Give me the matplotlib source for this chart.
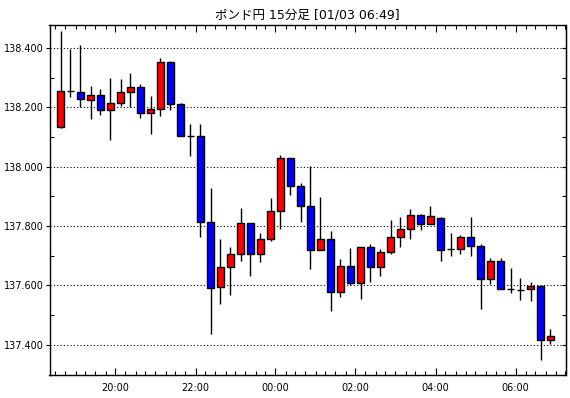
import numpy as np
import pandas as pd
import matplotlib
matplotlib.use("Agg")
import matplotlib.pyplot as plt
import matplotlib.dates as mdates

plt.rcParams['font.family'] = ['DejaVu Sans', 'Noto Sans CJK JP']

# 15-minute candles, 01/02 18:30 -> 01/03 06:45
times = pd.date_range("2024-01-02 18:30", "2024-01-03 06:45", freq="15min")

opens = [138.133, 138.254, 138.252, 138.226, 138.240, 138.190, 138.216, 138.252, 138.269, 138.180,
         138.193, 138.351, 138.212, 138.102, 138.102, 137.815, 137.593, 137.662, 137.705, 137.809,
         137.705, 137.757, 137.852, 138.030, 137.934, 137.869, 137.718, 137.757, 137.577, 137.666,
         137.607, 137.728, 137.662, 137.711, 137.764, 137.790, 137.836, 137.807, 137.828, 137.722,
         137.723, 137.763, 137.734, 137.622, 137.681, 137.588, 137.586, 137.588, 137.598, 137.415]
highs = [138.457, 138.395, 138.411, 138.270, 138.263, 138.299, 138.296, 138.315, 138.279, 138.237,
         138.365, 138.355, 138.213, 138.145, 138.145, 137.929, 137.755, 137.728, 137.860, 137.809,
         137.777, 137.893, 138.039, 138.030, 137.944, 138.003, 137.899, 137.784, 137.689, 137.726,
         137.728, 137.741, 137.721, 137.821, 137.830, 137.859, 137.839, 137.869, 137.832, 137.776,
         137.769, 137.832, 137.738, 137.694, 137.694, 137.659, 137.625, 137.612, 137.601, 137.453]
lows = [138.130, 138.235, 138.200, 138.162, 138.173, 138.091, 138.204, 138.200, 138.163, 138.110,
        138.172, 138.192, 138.102, 138.037, 137.763, 137.438, 137.537, 137.569, 137.682, 137.632,
        137.678, 137.748, 137.790, 137.904, 137.812, 137.655, 137.718, 137.514, 137.560, 137.603,
        137.553, 137.612, 137.632, 137.705, 137.731, 137.756, 137.786, 137.807, 137.683, 137.699,
        137.706, 137.699, 137.519, 137.604, 137.588, 137.576, 137.552, 137.549, 137.350, 137.402]
closes = [138.256, 138.254, 138.229, 138.240, 138.190, 138.216, 138.252, 138.269, 138.180, 138.193,
          138.351, 138.212, 138.102, 138.102, 137.815, 137.590, 137.662, 137.705, 137.809, 137.705,
          137.757, 137.849, 138.030, 137.934, 137.869, 137.718, 137.757, 137.577, 137.666, 137.607,
          137.728, 137.662, 137.711, 137.764, 137.790, 137.836, 137.807, 137.833, 137.719, 137.722,
          137.763, 137.732, 137.622, 137.681, 137.588, 137.588, 137.586, 137.598, 137.415, 137.428]

y_ticks = [137.4, 137.6, 137.8, 138.0, 138.2, 138.4]

o = np.array(opens)
h = np.array(highs)
l = np.array(lows)
c = np.array(closes)
step = pd.Timedelta(minutes=15)
x = times + step / 2
colors = np.where(c >= o, '#ff0000', '#0000ff')

fig = plt.figure(figsize=(5.70, 3.98), dpi=100)
ax = fig.add_axes([49.5 / 570, 23.5 / 398, 516 / 570, 349.5 / 398])

ax.vlines(x, l, h, color='black', linewidth=1.0, zorder=2)
ax.bar(x, np.abs(c - o), bottom=np.minimum(o, c), width=0.65 * step.total_seconds() / 86400,
       color=colors, edgecolor='black', linewidth=1.0, zorder=3)

ax.set_ylim(137.331, 138.477)
ax.set_xlim(times[0] - pd.Timedelta(minutes=9), times[-1] + pd.Timedelta(minutes=30))

ax.set_yticks(y_ticks)
ax.set_yticklabels([f"{v:.3f}" for v in y_ticks])
ax.set_yticks(np.arange(137.3, 138.5, 0.1), minor=True)
ax.grid(axis='y', which='major', linestyle=(0, (1, 2)), color='black', linewidth=0.8)

ax.xaxis.set_major_locator(mdates.HourLocator(byhour=range(0, 24, 2)))
ax.xaxis.set_major_formatter(mdates.DateFormatter('%H:%M'))
ax.xaxis.set_minor_locator(mdates.MinuteLocator(byminute=[0, 15, 30, 45]))

ax.tick_params(axis='x', which='both', direction='in', top=True, bottom=True,
               labelsize=7, pad=6, width=0.8)
ax.tick_params(axis='x', which='major', length=5)
ax.tick_params(axis='x', which='minor', length=3)
ax.tick_params(axis='y', which='major', direction='out', length=3, width=0.8, labelsize=7, pad=1)
ax.tick_params(axis='y', which='minor', direction='in', length=3, width=0.8)

sec = ax.secondary_yaxis('right')
sec.set_yticks(y_ticks)
sec.set_yticks(np.arange(137.3, 138.5, 0.1), minor=True)
sec.tick_params(which='both', direction='in', length=3, width=0.8, labelright=False)

for s in ax.spines.values():
    s.set_linewidth(1.0)

ax.set_title("ポンド円 15分足 [01/03 06:49]", fontsize=9, pad=5)

fig.savefig("out.png", dpi=100)
